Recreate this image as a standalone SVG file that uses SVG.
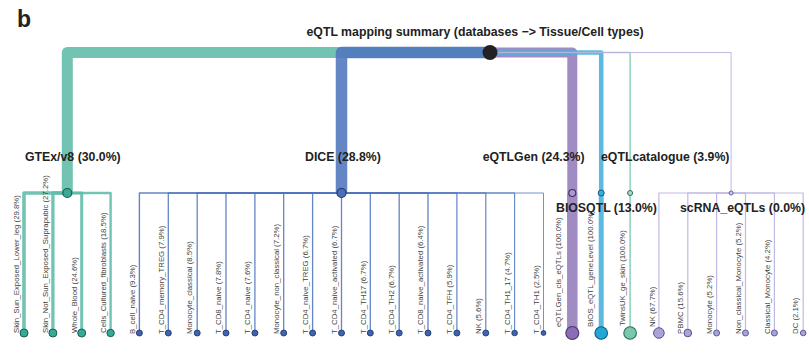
<svg xmlns="http://www.w3.org/2000/svg" width="809" height="354" viewBox="0 0 809 354">
  <style>
    .lnk { fill: none; stroke-linejoin: round; stroke-linecap: butt; stroke-opacity: 0.88; }
    .gtex { stroke: #5fbba7; }
    .dice { stroke: #4f75bd; }
    .eqg { stroke: #937cbb; }
    .bios { stroke: #45b0dc; }
    .cat { stroke: #86d0b8; }
    .sc { stroke: #b7b1de; }
    .hdr { font-family: "Liberation Sans", Arial, sans-serif; font-weight: bold; font-size: 12.3px; fill: #222; }
    .leaf { font-family: "Liberation Sans", Arial, sans-serif; font-size: 7.8px; fill: #3f3f3f; }
    .panel { font-family: "Liberation Sans", Arial, sans-serif; font-weight: bold; font-size: 23px; fill: #222; }
  </style>

  <rect width="809" height="354" fill="#ffffff"/>

  <text class="panel" x="17" y="27">b</text>
  <text class="hdr" x="306.5" y="36">eQTL mapping summary (databases −&gt; Tissue/Cell types)</text>

  <!-- connectors -->
  <g id="connectors">
    <!-- root to databases -->
    <path class="lnk gtex" stroke-width="11" d="M490,52.5 H67.3 V193"/>
    <path class="lnk dice" stroke-width="11.5" d="M490,52.5 H341.5 V193"/>
    <path class="lnk eqg" stroke-width="10" d="M490,52.5 H572.3 V193"/>
    <path class="lnk bios" stroke-width="4.5" d="M490,52.5 H601.2 V193"/>
    <path class="lnk cat" stroke-width="1.6" d="M490,52.5 H630.1 V193"/>
    <path class="lnk sc" stroke-width="1" d="M490,52.5 H731.1 V193"/>

    <!-- GTEx/v8 -->
    <path class="lnk gtex" stroke-width="3.6" d="M67.3,193 H24 V333"/>
    <path class="lnk gtex" stroke-width="3.3" d="M67.3,193 H52.9 V333"/>
    <path class="lnk gtex" stroke-width="3.0" d="M67.3,193 H81.7 V333"/>
    <path class="lnk gtex" stroke-width="2.4" d="M67.3,193 H110.6 V333"/>

    <!-- DICE -->
    <path class="lnk dice" stroke-width="1.4" d="M341.5,193 H139.4 V333"/>
    <path class="lnk dice" stroke-width="1.3" d="M341.5,193 H168.3 V333"/>
    <path class="lnk dice" stroke-width="1.3" d="M341.5,193 H197.2 V333"/>
    <path class="lnk dice" stroke-width="1.3" d="M341.5,193 H226 V333"/>
    <path class="lnk dice" stroke-width="1.3" d="M341.5,193 H254.9 V333"/>
    <path class="lnk dice" stroke-width="1.3" d="M341.5,193 H283.7 V333"/>
    <path class="lnk dice" stroke-width="1.3" d="M341.5,193 H312.6 V333"/>
    <path class="lnk dice" stroke-width="1.3" d="M341.5,193 V333"/>
    <path class="lnk dice" stroke-width="1.3" d="M341.5,193 H370.3 V333"/>
    <path class="lnk dice" stroke-width="1.3" d="M341.5,193 H399.2 V333"/>
    <path class="lnk dice" stroke-width="1.3" d="M341.5,193 H428 V333"/>
    <path class="lnk dice" stroke-width="1.2" d="M341.5,193 H456.9 V333"/>
    <path class="lnk dice" stroke-width="1.2" d="M341.5,193 H485.8 V333"/>
    <path class="lnk dice" stroke-width="1.1" d="M341.5,193 H514.6 V333"/>
    <path class="lnk dice" stroke-width="0.9" d="M341.5,193 H543.5 V333"/>

    <!-- eQTLGen, BIOSQTL, eQTLcatalogue -->
    <path class="lnk eqg" stroke-width="10.5" d="M572.3,193 V333"/>
    <path class="lnk bios" stroke-width="5" d="M601.2,193 V333"/>
    <path class="lnk cat" stroke-width="1.7" d="M630.1,193 V333"/>

    <!-- scRNA_eQTLs -->
    <path class="lnk sc" stroke-width="1.2" d="M731.1,193 H658.9 V333"/>
    <path class="lnk sc" stroke-width="1.2" d="M731.1,193 H687.8 V333"/>
    <path class="lnk sc" stroke-width="1.2" d="M731.1,193 H716.6 V333"/>
    <path class="lnk sc" stroke-width="1.2" d="M731.1,193 H745.5 V333"/>
    <path class="lnk sc" stroke-width="1.2" d="M731.1,193 H774.4 V333"/>
    <path class="lnk sc" stroke-width="1.2" d="M731.1,193 H803.2 V333"/>
  </g>

  <!-- root -->
  <g id="root">
    <circle cx="490" cy="52.5" r="7.5" fill="#222"/>
  </g>

  <!-- databases -->
  <g id="gtex">
    <circle cx="67.3" cy="193" r="4.5" fill="#3aa893" stroke="#1f5a4f" stroke-width="1.2"/>
    <text class="hdr" x="25" y="161">GTEx/v8 (30.0%)</text>
  </g>
  <g id="dice">
    <circle cx="341.5" cy="193" r="4.5" fill="#4a6fb5" stroke="#1e3a70" stroke-width="1.2"/>
    <text class="hdr" x="305" y="161">DICE (28.8%)</text>
  </g>
  <g id="eqtlgen">
    <circle cx="572.3" cy="193" r="3.5" fill="#ab99cf" stroke="#3d2f5c" stroke-width="1.1"/>
    <text class="hdr" x="482.7" y="161">eQTLGen (24.3%)</text>
  </g>
  <g id="biosqtl">
    <circle cx="601.2" cy="193" r="3" fill="#3aaedc" stroke="#155a78" stroke-width="1"/>
    <text class="hdr" x="556" y="211.5">BIOSQTL (13.0%)</text>
  </g>
  <g id="eqtlcatalogue">
    <circle cx="630.1" cy="193" r="2.5" fill="#a6dccb" stroke="#2f6e5c" stroke-width="1"/>
    <text class="hdr" x="601" y="161">eQTLcatalogue (3.9%)</text>
  </g>
  <g id="scrna">
    <circle cx="731.1" cy="193" r="2" fill="#d2cdea" stroke="#55508a" stroke-width="0.9"/>
    <text class="hdr" x="680" y="211.5">scRNA_eQTLs (0.0%)</text>
  </g>

  <!-- GTEx/v8 tissues -->
  <g id="leaf-skin-sun">
    <circle cx="24" cy="333" r="4" fill="#35ab95" stroke="#1f5a4f" stroke-width="1"/>
    <text class="leaf" transform="translate(19,333) rotate(-90)">Skin_Sun_Exposed_Lower_leg (29.8%)</text>
  </g>
  <g id="leaf-skin-not-sun">
    <circle cx="52.9" cy="333" r="4" fill="#35ab95" stroke="#1f5a4f" stroke-width="1"/>
    <text class="leaf" transform="translate(47.9,333) rotate(-90)">Skin_Not_Sun_Exposed_Suprapubic (27.2%)</text>
  </g>
  <g id="leaf-whole-blood">
    <circle cx="81.7" cy="333" r="4" fill="#35ab95" stroke="#1f5a4f" stroke-width="1"/>
    <text class="leaf" transform="translate(76.7,333) rotate(-90)">Whole_Blood (24.6%)</text>
  </g>
  <g id="leaf-fibroblasts">
    <circle cx="110.6" cy="333" r="3.7" fill="#35ab95" stroke="#1f5a4f" stroke-width="1"/>
    <text class="leaf" transform="translate(105.6,333) rotate(-90)">Cells_Cultured_fibroblasts (18.5%)</text>
  </g>

  <!-- DICE cell types -->
  <g id="leaf-b-cell-naive">
    <circle cx="139.4" cy="333" r="3" fill="#3f64ad" stroke="#1e3a70" stroke-width="0.9"/>
    <text class="leaf" transform="translate(134.6,334) rotate(-90)">B_cell_naive (9.3%)</text>
  </g>
  <g id="leaf-cd4-memory-treg">
    <circle cx="168.3" cy="333" r="3" fill="#3f64ad" stroke="#1e3a70" stroke-width="0.9"/>
    <text class="leaf" transform="translate(163.5,334) rotate(-90)">T_CD4_memory_TREG (7.9%)</text>
  </g>
  <g id="leaf-monocyte-classical">
    <circle cx="197.2" cy="333" r="3" fill="#3f64ad" stroke="#1e3a70" stroke-width="0.9"/>
    <text class="leaf" transform="translate(192.4,334) rotate(-90)">Monocyte_classical (8.5%)</text>
  </g>
  <g id="leaf-cd8-naive">
    <circle cx="226" cy="333" r="3" fill="#3f64ad" stroke="#1e3a70" stroke-width="0.9"/>
    <text class="leaf" transform="translate(221.2,334) rotate(-90)">T_CD8_naive (7.8%)</text>
  </g>
  <g id="leaf-cd4-naive">
    <circle cx="254.9" cy="333" r="3" fill="#3f64ad" stroke="#1e3a70" stroke-width="0.9"/>
    <text class="leaf" transform="translate(250.1,334) rotate(-90)">T_CD4_naive (7.6%)</text>
  </g>
  <g id="leaf-monocyte-non-classical">
    <circle cx="283.7" cy="333" r="3" fill="#3f64ad" stroke="#1e3a70" stroke-width="0.9"/>
    <text class="leaf" transform="translate(278.9,334) rotate(-90)">Monocyte_non_classical (7.2%)</text>
  </g>
  <g id="leaf-cd4-naive-treg">
    <circle cx="312.6" cy="333" r="3" fill="#3f64ad" stroke="#1e3a70" stroke-width="0.9"/>
    <text class="leaf" transform="translate(307.8,334) rotate(-90)">T_CD4_naive_TREG (6.7%)</text>
  </g>
  <g id="leaf-cd4-naive-activated">
    <circle cx="341.5" cy="333" r="3" fill="#3f64ad" stroke="#1e3a70" stroke-width="0.9"/>
    <text class="leaf" transform="translate(336.7,334) rotate(-90)">T_CD4_naive_activated (6.7%)</text>
  </g>
  <g id="leaf-cd4-th17">
    <circle cx="370.3" cy="333" r="3" fill="#3f64ad" stroke="#1e3a70" stroke-width="0.9"/>
    <text class="leaf" transform="translate(365.5,334) rotate(-90)">T_CD4_TH17 (6.7%)</text>
  </g>
  <g id="leaf-cd4-th2">
    <circle cx="399.2" cy="333" r="3" fill="#3f64ad" stroke="#1e3a70" stroke-width="0.9"/>
    <text class="leaf" transform="translate(394.4,334) rotate(-90)">T_CD4_TH2 (6.7%)</text>
  </g>
  <g id="leaf-cd8-naive-activated">
    <circle cx="428" cy="333" r="3" fill="#3f64ad" stroke="#1e3a70" stroke-width="0.9"/>
    <text class="leaf" transform="translate(423.2,334) rotate(-90)">T_CD8_naive_activated (6.4%)</text>
  </g>
  <g id="leaf-cd4-tfh">
    <circle cx="456.9" cy="333" r="3" fill="#3f64ad" stroke="#1e3a70" stroke-width="0.9"/>
    <text class="leaf" transform="translate(452.1,334) rotate(-90)">T_CD4_TFH (5.9%)</text>
  </g>
  <g id="leaf-dice-nk">
    <circle cx="485.8" cy="333" r="3" fill="#3f64ad" stroke="#1e3a70" stroke-width="0.9"/>
    <text class="leaf" transform="translate(481,334) rotate(-90)">NK (5.6%)</text>
  </g>
  <g id="leaf-cd4-th1-17">
    <circle cx="514.6" cy="333" r="2.8" fill="#3f64ad" stroke="#1e3a70" stroke-width="0.9"/>
    <text class="leaf" transform="translate(509.8,334) rotate(-90)">T_CD4_TH1_17 (4.7%)</text>
  </g>
  <g id="leaf-cd4-th1">
    <circle cx="543.5" cy="333" r="2.4" fill="#3f64ad" stroke="#1e3a70" stroke-width="0.9"/>
    <text class="leaf" transform="translate(538.7,334) rotate(-90)">T_CD4_TH1 (2.5%)</text>
  </g>

  <!-- single-dataset databases -->
  <g id="leaf-eqtlgen-cis">
    <circle cx="572.3" cy="333" r="6.5" fill="#8a6db3" stroke="#4a3570" stroke-width="1.1"/>
    <text class="leaf" transform="translate(561,327) rotate(-90)">eQTLGen_cis_eQTLs (100.0%)</text>
  </g>
  <g id="leaf-bios-genelevel">
    <circle cx="601.2" cy="333" r="6.3" fill="#22a6d8" stroke="#135c7a" stroke-width="1.1"/>
    <text class="leaf" transform="translate(593.2,327) rotate(-90)">BIOS_eQTL_geneLevel (100.0%)</text>
  </g>
  <g id="leaf-twinsuk">
    <circle cx="630.1" cy="333" r="6.3" fill="#78c8ae" stroke="#2f6e5c" stroke-width="1.1"/>
    <text class="leaf" transform="translate(625.1,326) rotate(-90)">TwinsUK_ge_skin (100.0%)</text>
  </g>

  <!-- scRNA_eQTLs cell types -->
  <g id="leaf-sc-nk">
    <circle cx="658.9" cy="333" r="5.3" fill="#aaa3d8" stroke="#55508a" stroke-width="1"/>
    <text class="leaf" transform="translate(654.5,327) rotate(-90)">NK (67.7%)</text>
  </g>
  <g id="leaf-pbmc">
    <circle cx="687.8" cy="333" r="3.8" fill="#aaa3d8" stroke="#55508a" stroke-width="1"/>
    <text class="leaf" transform="translate(683,334) rotate(-90)">PBMC (15.6%)</text>
  </g>
  <g id="leaf-monocyte">
    <circle cx="716.6" cy="333" r="3" fill="#aaa3d8" stroke="#55508a" stroke-width="0.9"/>
    <text class="leaf" transform="translate(711.8,334) rotate(-90)">Monocyte (5.2%)</text>
  </g>
  <g id="leaf-non-classical-monocyte">
    <circle cx="745.5" cy="333" r="3" fill="#aaa3d8" stroke="#55508a" stroke-width="0.9"/>
    <text class="leaf" transform="translate(740.7,334) rotate(-90)">Non_classical_Monocyte (5.2%)</text>
  </g>
  <g id="leaf-classical-monocyte">
    <circle cx="774.4" cy="333" r="3" fill="#aaa3d8" stroke="#55508a" stroke-width="0.9"/>
    <text class="leaf" transform="translate(769.6,334) rotate(-90)">Classical_Monocyte (4.2%)</text>
  </g>
  <g id="leaf-dc">
    <circle cx="803.2" cy="333" r="2.8" fill="#aaa3d8" stroke="#55508a" stroke-width="0.9"/>
    <text class="leaf" transform="translate(798.4,334) rotate(-90)">DC (2.1%)</text>
  </g>
</svg>
